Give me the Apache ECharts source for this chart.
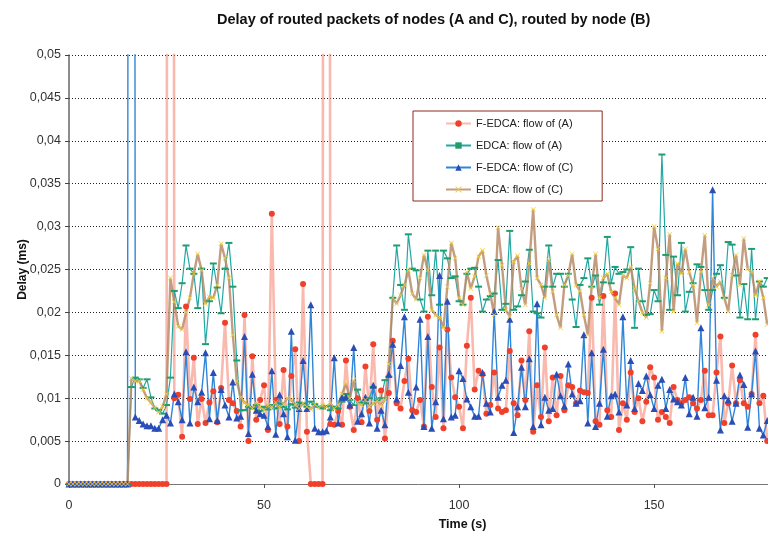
<!DOCTYPE html>
<html>
<head>
<meta charset="utf-8">
<script src="https://cdn.jsdelivr.net/npm/echarts@6/dist/echarts.min.js"></script>
<style>html,body{margin:0;padding:0;background:#fff}#c{width:768px;height:536px}</style>
</head>
<body>
<div id="c"></div>
<script>
// Time in seconds (one sample per second)
var times = [];
for (var i = 0; i < 180; i++) times.push(i);

var yTicks = [0, 0.005, 0.01, 0.015, 0.02, 0.025, 0.03, 0.035, 0.04, 0.045, 0.05];
var xTicks = [0, 50, 100, 150];

var seriesNames = ['F-EDCA: flow of (A)', 'EDCA: flow of (A)', 'F-EDCA: flow of (C)', 'EDCA: flow of (C)'];

// F-EDCA flow of (A)
var fedcaA = [
0,0,0,0,0,0,0,0,0,0,
0,0,0,0,0,0,0,0,0,0,
0,0,0,0,0,0,0.5,.0100,.0104,.0055,
.0207,.0099,.0147,.0070,.0099,.0071,.0095,.0108,.0072,.0112,
.0188,.0098,.0094,.0085,.0067,.0197,.0050,.0149,.0075,.0098,
.0115,.0063,.0315,.0098,.0070,.0133,.0067,.0126,.0157,.0050,
.0233,.0061,0,0,0,0,0.5,.0070,.0069,.0085,
.0069,.0144,.0090,.0063,.0100,.0072,.0137,.0085,.0163,.0075,
.0109,.0053,.0106,.0167,.0094,.0088,.0120,.0146,.0086,.0084,
.0098,.0067,.0195,.0113,.0078,.0159,.0065,.0180,.0124,.0101,
.0090,.0065,.0161,.0217,.0110,.0132,.0128,.0082,.0092,.0130,
.0088,.0084,.0086,.0155,.0094,.0080,.0144,.0098,.0178,.0061,
.0115,.0078,.0159,.0073,.0124,.0080,.0126,.0086,.0115,.0113,
.0094,.0109,.0107,.0106,.0217,.0073,.0069,.0219,.0086,.0078,
.0222,.0063,.0094,.0075,.0130,.0084,.0100,.0073,.0096,.0136,
.0124,.0075,.0084,.0078,.0071,.0113,.0098,.0094,.0098,.0101,
.0094,.0088,.0098,.0132,.0080,.0080,.0130,.0172,.0071,.0094,
.0138,.0094,.0121,.0094,.0090,.0105,.0174,.0094,.0103,.0050
];

// EDCA flow of (A)
var edcaA = [
0,0,0,0,0,0,0,0,0,0,
0,0,0,0,0,0,.0113,.0124,.0122,.0112,
.0122,.0101,.0088,.0086,.0082,.0092,.0124,.0225,.0205,.0234,
.0278,.0251,.0245,.0205,.0251,.0163,.0213,.0257,.0229,.0199,
.0251,.0281,.0230,.0144,.0086,.0086,.0090,.0088,.0092,.0085,
.0090,.0087,.0092,.0088,.0094,.0090,.0087,.0093,.0089,.0095,
.0094,.0090,.0096,.0093,.0090,.0088,.0091,.0086,.0090,.0088,
.0096,.0105,.0098,.0092,.0110,.0095,.0094,.0100,.0113,.0098,
.0100,.0121,.0125,.0217,.0278,.0232,.0203,.0291,.0251,.0249,
.0215,.0201,.0272,.0220,.0272,.0209,.0272,.0263,.0240,.0242,
.0213,.0209,.0245,.0251,.0252,.0230,.0201,.0215,.0219,.0222,
.0261,.0203,.0210,.0295,.0203,.0207,.0220,.0236,.0273,.0201,
.0199,.0194,.0230,.0278,.0230,.0245,.0245,.0230,.0245,.0215,
.0183,.0232,.0240,.0263,.0230,.0243,.0209,.0235,.0288,.0234,
.0253,.0245,.0247,.0250,.0276,.0182,.0251,.0213,.0197,.0198,
.0226,.0213,.0384,.0267,.0203,.0265,.0220,.0281,.0201,.0224,
.0234,.0256,.0253,.0226,.0203,.0226,.0245,.0255,.0217,.0282,
.0279,.0243,.0194,.0233,.0192,.0274,.0192,.0236,.0230,.0240
];

// F-EDCA flow of (C)
var fedcaC = [
0,0,0,0,0,0,0,0,0,0,
0,0,0,0,0,0,0.5,.0078,.0074,.0070,
.0068,.0068,.0065,.0065,.0075,.0080,.0071,.0105,.0096,.0075,
.0154,.0071,.0113,.0096,.0107,.0153,.0076,.0130,.0074,.0110,
.0092,.0078,.0119,.0077,.0079,.0172,.0059,.0128,.0086,.0082,
.0080,.0067,.0132,.0058,.0104,.0082,.0055,.0178,.0051,.0088,
.0144,.0088,.0209,.0065,.0061,.0061,.0062,.0078,.0147,.0071,
.0101,.0101,.0092,.0159,.0073,.0082,.0101,.0071,.0115,.0065,
.0086,.0069,.0128,.0163,.0099,.0138,.0195,.0107,.0080,.0113,
.0192,.0067,.0172,.0065,.0096,.0243,.0076,.0213,.0078,.0080,
.0132,.0123,.0099,.0090,.0079,.0079,.0130,.0094,.0084,.0201,
.0101,.0115,.0121,.0192,.0060,.0090,.0136,.0090,.0146,.0067,
.0210,.0069,.0101,.0086,.0088,.0128,.0103,.0091,.0140,.0105,
.0094,.0097,.0174,.0071,.0153,.0067,.0094,.0157,.0079,.0103,
.0105,.0084,.0195,.0092,.0144,.0088,.0117,.0109,.0126,.0104,
.0088,.0115,.0122,.0088,.0110,.0099,.0096,.0092,.0124,.0082,
.0101,.0079,.0182,.0089,.0101,.0343,.0121,.0063,.0103,.0098,
.0073,.0094,.0127,.0116,.0066,.0105,.0155,.0065,.0057,.0074
];

// EDCA flow of (C)
var edcaC = [
0,0,0,0,0,0,0,0,0,0,
0,0,0,0,0,0,.0123,.0120,.0120,.0110,
.0100,.0095,.0089,.0084,.0090,.0105,.0240,.0212,.0184,.0180,
.0200,.0217,.0245,.0268,.0249,.0210,.0218,.0217,.0232,.0280,
.0263,.0240,.0174,.0120,.0101,.0095,.0092,.0088,.0094,.0090,
.0086,.0092,.0090,.0095,.0089,.0093,.0100,.0098,.0092,.0088,
.0094,.0090,.0087,.0093,.0089,.0092,.0090,.0094,.0088,.0092,
.0105,.0117,.0100,.0121,.0095,.0092,.0098,.0090,.0094,.0097,
.0092,.0098,.0140,.0217,.0210,.0220,.0232,.0249,.0222,.0215,
.0240,.0267,.0249,.0203,.0197,.0194,.0182,.0230,.0281,.0263,
.0217,.0209,.0247,.0228,.0242,.0265,.0272,.0243,.0222,.0197,
.0299,.0255,.0203,.0195,.0259,.0266,.0228,.0209,.0257,.0320,
.0240,.0232,.0217,.0261,.0224,.0197,.0182,.0232,.0243,.0268,
.0232,.0225,.0197,.0174,.0230,.0268,.0217,.0240,.0245,.0224,
.0217,.0209,.0243,.0240,.0253,.0228,.0213,.0200,.0194,.0234,
.0300,.0274,.0178,.0240,.0291,.0201,.0257,.0245,.0274,.0247,
.0232,.0188,.0247,.0290,.0209,.0240,.0230,.0236,.0217,.0201,
.0243,.0267,.0232,.0286,.0251,.0247,.0220,.0236,.0217,.0186
];

function pairs(vals) { return times.map(function (t, i) { return [t, vals[i]]; }); }

var FONT = 'Liberation Sans, Arial, sans-serif';
var xSym = 'path://M0,1 L1,0 L5,4 L9,0 L10,1 L6,5 L10,9 L9,10 L5,6 L1,10 L0,9 L4,5 Z';

var chart = echarts.init(document.getElementById('c'), null, {renderer: 'canvas'});
chart.setOption({
  animation: false,
  backgroundColor: '#ffffff',
  title: {
    text: 'Delay of routed packets of nodes (A and C), routed by node (B)',
    left: 212, top: 7,
    textStyle: {fontFamily: FONT, fontSize: 14.5, fontWeight: 'bold', color: '#111'}
  },
  legend: {
    orient: 'vertical',
    left: 413, top: 111,
    padding: [7, 29, 6, 32],
    itemGap: 11, itemWidth: 25, itemHeight: 8,
    borderColor: '#8a2a1c', borderWidth: 1,
    backgroundColor: '#fff',
    textStyle: {fontFamily: FONT, fontSize: 11, color: '#222'},
    data: seriesNames
  },
  grid: {left: 69, top: 55, right: 0, height: 433, containLabel: false},
  xAxis: {
    type: 'value', min: 0, max: 179.2, interval: 50,
    name: 'Time (s)', nameLocation: 'middle', nameGap: 34,
    nameTextStyle: {fontFamily: FONT, fontSize: 12.5, fontWeight: 'bold', color: '#111', padding: [0, 0, 0, 88]},
    axisLine: {lineStyle: {color: '#777', width: 1}},
    axisTick: {show: true, length: 4, lineStyle: {color: '#555'}},
    axisLabel: {fontFamily: FONT, fontSize: 12.5, color: '#333', margin: 15, showMaxLabel: false,
      formatter: function (v) { return xTicks.indexOf(v) >= 0 ? String(v) : ''; }},
    splitLine: {show: false}
  },
  yAxis: {
    type: 'value', min: 0, max: 0.05, interval: 0.005,
    name: 'Delay (ms)', nameLocation: 'middle', nameGap: 40, nameRotate: 90,
    nameMoveOverlap: false,
    nameTextStyle: {fontFamily: FONT, fontSize: 12, fontWeight: 'bold', color: '#111'},
    axisLine: {show: true, lineStyle: {color: '#666', width: 1.5}},
    axisTick: {show: true, length: 4, lineStyle: {color: '#444'}},
    axisLabel: {fontFamily: FONT, fontSize: 12.5, color: '#333', margin: 8,
      formatter: function (v) {
        var r = Math.round(v * 1000) / 1000;
        return String(r).replace('.', ',');
      }},
    splitLine: {show: true, lineStyle: {color: '#222', type: [1, 2], width: 1}}
  },
  series: [
    {
      name: seriesNames[0], type: 'line', data: pairs(fedcaA), clip: true,
      symbol: 'circle', symbolSize: 6, color: '#f0402c',
      itemStyle: {color: '#f0402c', borderWidth: 0},
      lineStyle: {color: 'rgba(246,128,108,0.55)', width: 2.6}
    },
    {
      name: seriesNames[1], type: 'line', data: pairs(edcaA), clip: true,
      symbol: 'rect', symbolSize: [7, 2], color: '#1f9d6c',
      itemStyle: {color: '#1f9d6c', borderWidth: 0},
      lineStyle: {color: '#22a8a4', width: 1.2}
    },
    {
      name: seriesNames[2], type: 'line', data: pairs(fedcaC), clip: true,
      symbol: 'triangle', symbolSize: 7, color: '#2a4db6',
      itemStyle: {color: '#2a4db6', borderWidth: 0},
      lineStyle: {color: '#2f86d8', width: 1.4}
    },
    {
      name: seriesNames[3], type: 'line', data: pairs(edcaC), clip: true,
      symbol: xSym, symbolSize: 5, color: '#f2cf3a',
      itemStyle: {color: '#f2cf3a', borderWidth: 0},
      lineStyle: {color: 'rgba(185,140,105,0.85)', width: 2.4}
    }
  ]
});
</script>
</body>
</html>
